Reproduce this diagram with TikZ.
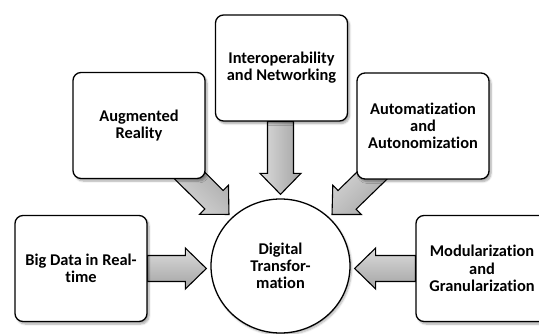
\documentclass[tikz,border=0pt]{standalone}
\usepackage{fontspec}
\setmainfont{Carlito}[Ligatures=CommonOff]
\usetikzlibrary{calc,shapes.geometric,shadows.blur,backgrounds}
\tikzset{
  lbl/.style={align=center, font=\fontsize{16.4}{17.2}\selectfont\bfseries},
  box/.style={lbl, draw, line width=1.3pt, rounded corners=8pt, fill=white,
    minimum width=132pt, minimum height=106pt, inner sep=2pt,
    blur shadow={shadow xshift=2pt, shadow yshift=-2.5pt, shadow blur steps=6, shadow opacity=35}},
  hub/.style={lbl, ellipse, draw, line width=1.3pt, fill=white, inner sep=0pt,
    minimum width=139pt, minimum height=134pt,
    blur shadow={shadow xshift=1.5pt, shadow yshift=-2pt, shadow blur steps=6, shadow opacity=30}},
  barrow/.style={draw, line width=1.1pt, line join=miter, left color=gray!28, right color=gray!72}
}
\newcommand\blockarrow[3]{%
  \coordinate (bah) at ($(#2)!21pt!(#1)$);
  \path[barrow, shading angle=#3]
    ($(#1)!13pt!90:(#2)$) -- ($(bah)!13pt!90:(#2)$) -- ($(bah)!20.5pt!90:(#2)$) -- (#2)
    -- ($(bah)!20.5pt!-90:(#2)$) -- ($(bah)!13pt!-90:(#2)$) -- ($(#1)!13pt!-90:(#2)$) -- cycle;}
\begin{document}
\begin{tikzpicture}[x=1pt, y=-1pt]
\useasboundingbox (0,0) rectangle (539,334);
\node[box] (aug) at (139,125.5) {Augmented\\Reality};
\node[box] (inter) at (281.5,68) {Interoperability\\and Networking};
\node[box] (auto) at (423,126) {Automatization\\and\\Autonomization};
\node[box] (big) at (81,268.5) {Big Data in Real-\\time};
\node[box] (mod) at (482,268.5) {Modularization\\and\\Granularization};
\node[hub] (dt) at (280.5,266) {Digital\\Transfor-\\mation};
\coordinate (tTop) at ($(dt.north)!-4pt!(dt.center)$);
\coordinate (sTop) at (inter.south -| tTop);
\coordinate (tLeft) at ($(big.east -| dt.west)+(-4,0)$);
\coordinate (tRight) at ($(mod.west -| dt.east)+(4,0)$);
\coordinate (tA) at ($(dt.135)!-4pt!(dt.center)$);
\coordinate (sA) at ($(tA)!85pt!(aug.center)$);
\coordinate (tB) at ($(dt.45)!-4pt!(dt.center)$);
\coordinate (sB) at ($(tB)!85pt!(auto.center)$);
\begin{scope}[on background layer]
  \blockarrow{sTop}{tTop}{90}
  \blockarrow{big.east}{tLeft}{0}
  \blockarrow{mod.west}{tRight}{0}
  \blockarrow{sA}{tA}{135}
  \blockarrow{sB}{tB}{45}
\end{scope}
\end{tikzpicture}
\end{document}
